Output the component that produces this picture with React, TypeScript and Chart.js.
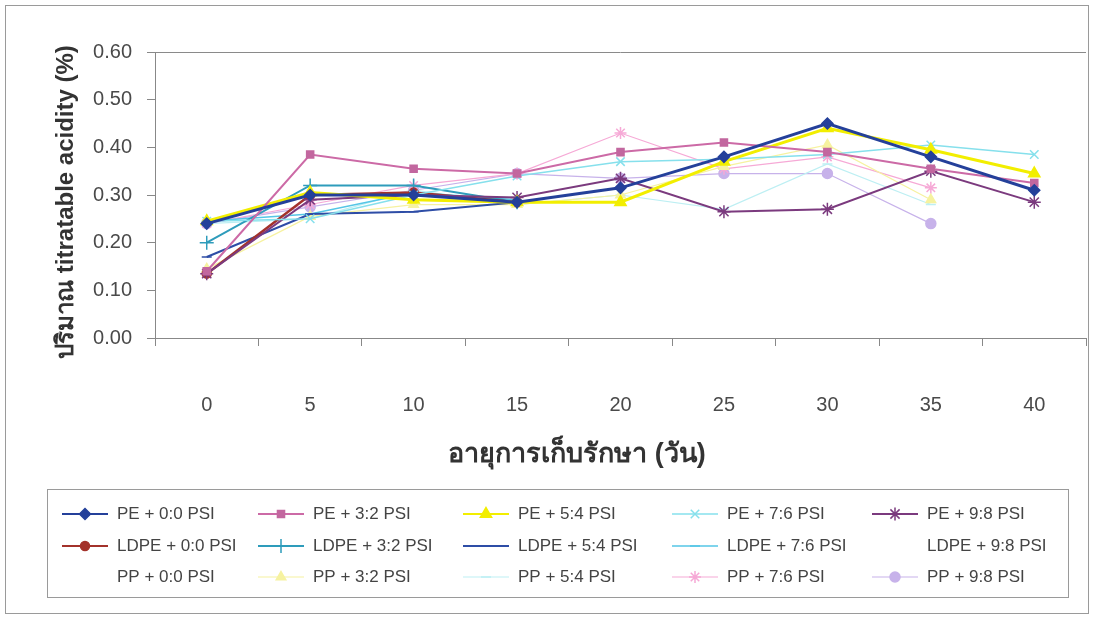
import React, { useEffect, useRef } from 'react';
import { Chart, registerables } from 'chart.js';
import { drawPoint } from 'chart.js/helpers';

Chart.register(...registerables);

// Storage time (days)
const days = ['0', '5', '10', '15', '20', '25', '30', '35', '40'];

// Titratable acidity (%) per treatment
const pe00 = [0.24, 0.3, 0.3, 0.285, 0.315, 0.38, 0.45, 0.38, 0.31];
const pe32 = [0.14, 0.385, 0.355, 0.345, 0.39, 0.41, 0.39, 0.355, 0.325];
const pe54 = [0.245, 0.305, 0.29, 0.285, 0.285, 0.37, 0.44, 0.395, 0.345];
const pe76 = [0.245, 0.25, 0.3, 0.34, 0.37, 0.375, 0.385, 0.405, 0.385];
const pe98 = [0.135, 0.29, 0.3, 0.295, 0.335, 0.265, 0.27, 0.35, 0.285];
const ldpe00 = [0.135, 0.3, 0.305, 0.285];
const ldpe32 = [0.2, 0.32, 0.32, 0.285];
const ldpe54 = [0.17, 0.26, 0.265, 0.285];
const ldpe76 = [0.245, 0.26, 0.305, 0.29];
const ldpe98: number[] = [];
const pp00: number[] = [];
const pp32 = [0.145, 0.255, 0.28, 0.28, 0.3, 0.36, 0.405, 0.29];
const pp54 = [0.24, 0.25, 0.31, 0.28, 0.3, 0.27, 0.365, 0.28];
const pp76 = [0.24, 0.28, 0.32, 0.345, 0.43, 0.355, 0.38, 0.315];
const pp98 = [0.24, 0.275, 0.31, 0.345, 0.335, 0.345, 0.345, 0.24];

const seriesLabels = [
  'PE + 0:0 PSI', 'PE + 3:2 PSI', 'PE + 5:4 PSI', 'PE + 7:6 PSI', 'PE + 9:8 PSI',
  'LDPE + 0:0 PSI', 'LDPE + 3:2 PSI', 'LDPE + 5:4 PSI', 'LDPE + 7:6 PSI', 'LDPE + 9:8 PSI',
  'PP + 0:0 PSI', 'PP + 3:2 PSI', 'PP + 5:4 PSI', 'PP + 7:6 PSI', 'PP + 9:8 PSI',
];
const seriesValues = [
  pe00, pe32, pe54, pe76, pe98,
  ldpe00, ldpe32, ldpe54, ldpe76, ldpe98,
  pp00, pp32, pp54, pp76, pp98,
];

const yTickValues = [0, 0.1, 0.2, 0.3, 0.4, 0.5, 0.6];

const FONT = '"Liberation Sans", Arial, "DejaVu Sans", "Noto Sans", sans-serif';
const NONE = 'rgba(0,0,0,0)';

type Style = {
  color: string;
  width: number;
  point: any;
  radius: number;
  fill: string;
};

const styles: Style[] = [
  { color: '#24409A', width: 3, point: 'rectRot', radius: 5.5, fill: '#24409A' },
  { color: '#CC6AA6', width: 2, point: 'rect', radius: 5, fill: '#C2679F' },
  { color: '#F2EE00', width: 3, point: 'triangle', radius: 6.5, fill: '#F2EE00' },
  { color: '#86E0EC', width: 1.5, point: 'crossRot', radius: 6, fill: '#86E0EC' },
  { color: '#7B3A7E', width: 2, point: 'star', radius: 6.5, fill: '#7B3A7E' },
  { color: '#A3322B', width: 2.5, point: 'circle', radius: 4.5, fill: '#A3322B' },
  { color: '#2E9CBB', width: 2, point: 'cross', radius: 7, fill: '#2E9CBB' },
  { color: '#2E4DA6', width: 2, point: 'line', radius: 5, fill: '#2E4DA6' },
  { color: '#55C6E6', width: 1.5, point: 'line', radius: 5, fill: '#55C6E6' },
  { color: NONE, width: 0, point: false, radius: 0, fill: NONE },
  { color: NONE, width: 0, point: false, radius: 0, fill: NONE },
  { color: '#F6F2A0', width: 1.2, point: 'triangle', radius: 5.5, fill: '#F6F2A0' },
  { color: '#BDEFF3', width: 1.2, point: 'line', radius: 5, fill: '#BDEFF3' },
  { color: '#F6A9D6', width: 1.2, point: 'star', radius: 6, fill: '#F6A9D6' },
  { color: '#C7B2EA', width: 1.2, point: 'circle', radius: 5, fill: '#C7B2EA' },
];

const LEGEND_TEXT_X = [117, 313, 518, 727, 927];
const LEGEND_ROW_Y = [514, 546, 577];

const decorPlugin = {
  id: 'decor',
  beforeDraw(chart: any) {
    const ctx = chart.ctx;
    ctx.save();
    ctx.fillStyle = '#ffffff';
    ctx.fillRect(0, 0, chart.width, chart.height);
    ctx.restore();
  },
  afterDraw(chart: any) {
    const ctx = chart.ctx;
    const area = chart.chartArea;
    ctx.save();

    // outer frame
    ctx.strokeStyle = '#9a9a9a';
    ctx.lineWidth = 1;
    ctx.strokeRect(5.5, 5.5, 1083, 608);

    // top edge of plot area
    ctx.strokeStyle = '#8a8a8a';
    ctx.beginPath();
    ctx.moveTo(area.left, Math.round(area.top) + 0.5);
    ctx.lineTo(area.right, Math.round(area.top) + 0.5);
    ctx.stroke();

    // axis titles
    ctx.fillStyle = '#333333';
    ctx.textAlign = 'center';
    ctx.textBaseline = 'middle';
    ctx.save();
    ctx.font = `bold 24px ${FONT}`;
    ctx.translate(66, 202);
    ctx.rotate(-Math.PI / 2);
    ctx.fillText('ปริมาณ titratable acidity (%)', 0, 0);
    ctx.restore();
    ctx.font = `bold 27px ${FONT}`;
    ctx.fillText('อายุการเก็บรักษา (วัน)', 577, 455);

    // legend box
    ctx.strokeStyle = '#9a9a9a';
    ctx.lineWidth = 1;
    ctx.strokeRect(47.5, 489.5, 1021, 108);

    chart.data.datasets.forEach((ds: any, i: number) => {
      const row = Math.floor(i / 5);
      const col = i % 5;
      const tx = LEGEND_TEXT_X[col];
      const cy = LEGEND_ROW_Y[row];
      const x0 = tx - 55;
      const x1 = tx - 9;
      const st = styles[i];
      if (st.width > 0) {
        ctx.strokeStyle = st.color;
        ctx.lineWidth = Math.min(st.width, 2);
        ctx.beginPath();
        ctx.moveTo(x0, cy);
        ctx.lineTo(x1, cy);
        ctx.stroke();
      }
      if (st.point) {
        ctx.fillStyle = st.fill;
        ctx.strokeStyle = st.fill;
        ctx.lineWidth = 1.5;
        drawPoint(ctx, { pointStyle: st.point, radius: st.radius, rotation: 0, borderWidth: 1.5 }, (x0 + x1) / 2, cy);
      }
      ctx.fillStyle = '#444444';
      ctx.font = `17px ${FONT}`;
      ctx.textAlign = 'left';
      ctx.textBaseline = 'middle';
      ctx.fillText(ds.label, tx, cy);
    });

    ctx.restore();
  },
};

export default function App() {
  const canvasRef = useRef<HTMLCanvasElement | null>(null);

  useEffect(() => {
    const canvas = canvasRef.current;
    if (!canvas) return;

    const datasets = seriesLabels.map((label, i) => {
      const st = styles[i];
      return {
        label,
        data: seriesValues[i],
        borderColor: st.color,
        backgroundColor: st.fill,
        borderWidth: st.width,
        pointStyle: st.point,
        pointRadius: st.radius,
        pointBackgroundColor: st.fill,
        pointBorderColor: st.fill,
        pointBorderWidth: 1.5,
        tension: 0,
        fill: false,
      };
    });

    const chart = new Chart(canvas, {
      type: 'line',
      data: { labels: days, datasets },
      options: {
        animation: false,
        responsive: false,
        maintainAspectRatio: false,
        layout: { padding: { top: 52, right: 11, left: 0, bottom: 0 } },
        plugins: {
          legend: { display: false },
          tooltip: { enabled: false },
        },
        scales: {
          x: {
            type: 'category',
            offset: true,
            grid: {
              display: true,
              drawOnChartArea: false,
              offset: true,
              tickLength: 8,
              color: '#888888',
              tickColor: '#888888',
            },
            border: { display: true, color: '#888888', width: 1 },
            ticks: {
              padding: 47,
              color: '#4a4a4a',
              font: { family: FONT, size: 20 },
              maxRotation: 0,
            },
            afterFit: (scale: any) => {
              scale.height = 284;
            },
          },
          y: {
            min: 0,
            max: 0.6,
            afterBuildTicks: (scale: any) => {
              scale.ticks = yTickValues.map((v) => ({ value: v }));
            },
            ticks: {
              padding: 15,
              color: '#4a4a4a',
              font: { family: FONT, size: 20 },
              callback: (v: any) => Number(v).toFixed(2),
            },
            grid: {
              display: true,
              drawOnChartArea: false,
              tickLength: 8,
              color: '#888888',
              tickColor: '#888888',
            },
            border: { display: true, color: '#888888', width: 1 },
            afterFit: (scale: any) => {
              scale.width = 155;
            },
          },
        },
      },
      plugins: [decorPlugin],
    });

    return () => {
      chart.destroy();
    };
  }, []);

  return (
    <div style={{ position: 'fixed', left: 0, top: 0, width: 1097, height: 622, background: '#ffffff' }}>
      <canvas ref={canvasRef} width={1097} height={622} style={{ display: 'block', width: 1097, height: 622 }} />
    </div>
  );
}
